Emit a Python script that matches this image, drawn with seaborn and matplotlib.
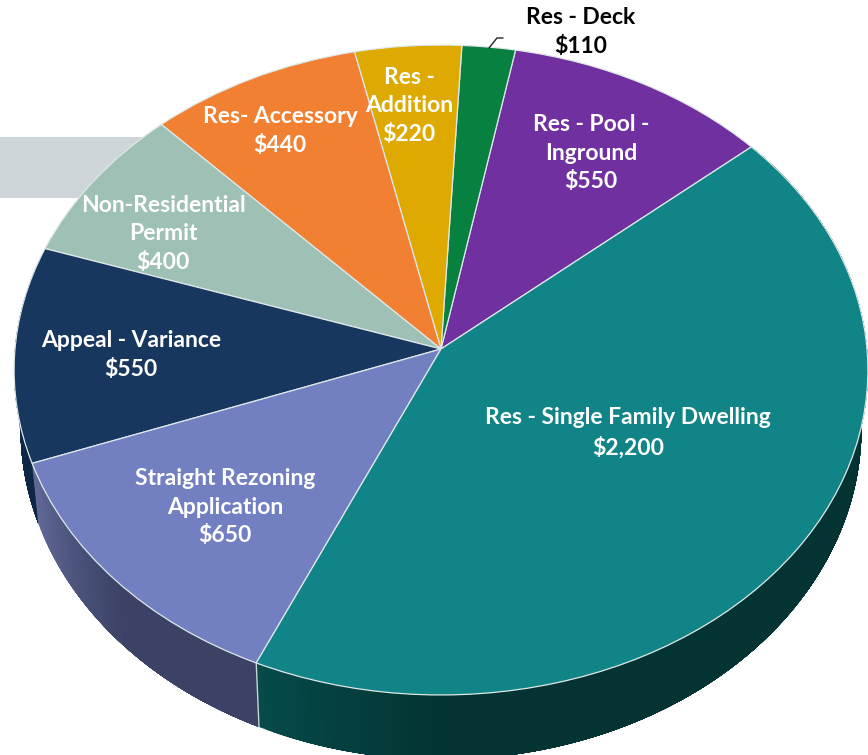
import numpy as np
import matplotlib

matplotlib.use("Agg")
import matplotlib.pyplot as plt
import seaborn as sns
from matplotlib.patches import Rectangle
from matplotlib.transforms import Transform

sns.set_theme(style="white")
plt.rcParams["font.family"] = ["Lato", "DejaVu Sans"]

# counter-clockwise from the pool / single family boundary
names = [
    "Res - Pool -\nInground",
    "Res - Deck",
    "Res -\nAddition",
    "Res- Accessory",
    "Non-Residential\nPermit",
    "Appeal - Variance",
    "Straight Rezoning\nApplication",
    "Res - Single Family Dwelling",
]
fees = [550, 110, 220, 440, 400, 550, 650, 2200]
colors = [
    "#7030a0",
    "#08803f",
    "#dea900",
    "#f28033",
    "#9fc0b5",
    "#17375e",
    "#727fc1",
    "#108487",
]
# side wall shading, left to right
wall_colors = {
    "Appeal - Variance": ("#0e2746", "#0e2746"),
    "Straight Rezoning\nApplication": ("#606a98", "#3b4265"),
    "Res - Single Family Dwelling": ("#064a4a", "#033433"),
}
label_xy = [
    (591, 153),
    (581, 32),
    (409, 106),
    (280, 131),
    (163, 234),
    (131, 355),
    (225, 507),
    (628, 433),
]


class Tilt(Transform):
    # unit disc to picture pixels, near edge drawn larger
    input_dims = output_dims = 2

    def transform_non_affine(self, xy):
        xy = np.asarray(xy, dtype=float)
        w = 1 + 0.0646 * xy[:, 1]
        return np.column_stack([441 + 426 * xy[:, 0] / w, 349 - 323.6 * xy[:, 1] / w])


tilt = Tilt()


def lower_rim(rim):
    depth = 60 + 0.02 * (rim[:, 1] - 462)
    return np.column_stack([441 + (rim[:, 0] - 441) * 0.985, rim[:, 1] + depth])


fig = plt.figure(figsize=(8.68, 7.55), dpi=100)
ax = fig.add_axes([0, 0, 1, 1])
wedges, _ = ax.pie(
    fees,
    colors=colors,
    startangle=40.6,
    wedgeprops={"edgecolor": "#dfe8e8", "linewidth": 0.9, "zorder": 3},
)
for wedge in wedges:
    wedge.set_transform(tilt + ax.transData)

ax.set_aspect("auto")
ax.set_xlim(0, 868)
ax.set_ylim(755, 0)

ax.add_patch(Rectangle((0, 137), 175, 61, facecolor="#ced6d9", edgecolor="none", zorder=1))

# side wall, only where the rim faces the viewer
for wedge, name in zip(wedges, names):
    if name not in wall_colors:
        continue
    t1, t2 = wedge.theta1, wedge.theta2
    steps = max(int(t2 - t1), 2)
    angles = np.radians(np.linspace(t1, t2, steps + 1))
    top = tilt.transform(np.column_stack([np.cos(angles), np.sin(angles)]))
    bottom = lower_rim(top)
    shades = sns.blend_palette(wall_colors[name], min(steps, 24))
    for i in range(min(steps, len(shades))):
        # each band runs to the end of the wall so no seams show between bands
        xs = np.r_[top[i:, 0], bottom[i:, 0][::-1]]
        ys = np.r_[top[i:, 1], bottom[i:, 1][::-1]]
        ax.fill(xs, ys, color=shades[i], lw=0, zorder=2)
    if name.startswith("Res - Single"):
        ax.plot(
            [top[0, 0], bottom[0, 0]],
            [top[0, 1], bottom[0, 1]],
            color="#c9d3d6",
            lw=1,
            zorder=2.5,
        )

for name, fee, (x, y) in zip(names, fees, label_xy):
    ax.text(
        x,
        y,
        f"{name}\n${fee:,}",
        color="black" if name == "Res - Deck" else "white",
        fontsize=16.5,
        fontweight="bold",
        ha="center",
        va="center",
        linespacing=1.46,
        parse_math=False,
        zorder=5,
    )

# leader line for the deck label
ax.plot([489, 497, 503], [48, 38, 38], color="#222222", lw=1, zorder=4)

fig.savefig("out.png", dpi=100)
